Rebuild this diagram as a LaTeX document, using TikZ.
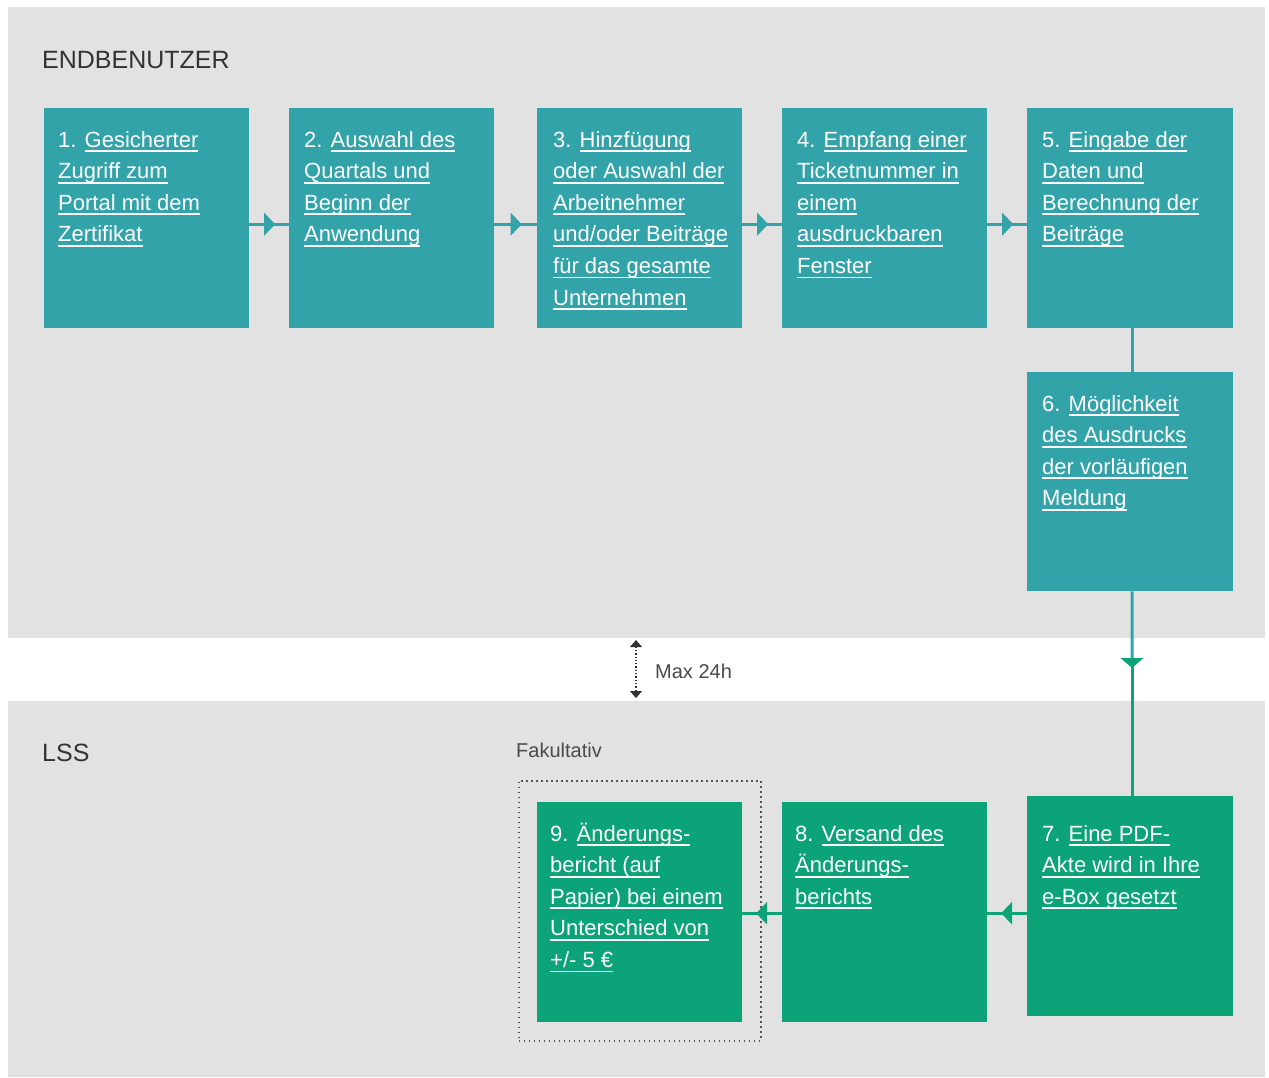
\documentclass[tikz,border=0pt]{standalone}
\usepackage{fontspec}
\setmainfont{Liberation Sans}
\usetikzlibrary{arrows.meta,decorations.markings,calc}
\definecolor{panel}{HTML}{E2E2E2}
\definecolor{tealbox}{HTML}{33A3AA}
\definecolor{greenbox}{HTML}{0BA377}
\definecolor{hdr}{HTML}{333333}
\definecolor{subtxt}{HTML}{4A4A4A}
\definecolor{dotgrey}{HTML}{555555}
\newcommand\uln[1]{\leavevmode\setbox0=\hbox{#1}\rlap{\rule[-5pt]{\wd0}{1.8pt}}\box0}
\newcommand\boxtext[1]{\parbox[t]{300pt}{\fontsize{22}{31.6}\selectfont\raggedright #1}}
\tikzset{
  stepbox/.style={draw=none, minimum width=205, minimum height=220, anchor=north west, inner sep=0},
  tbox/.style={stepbox, fill=tealbox},
  gbox/.style={stepbox, fill=greenbox},
  btext/.style={anchor=base west, inner sep=0, text=white},
  conn/.style={line width=3pt, postaction={decorate},
    decoration={markings, mark=at position 0.5 with {\fill (-5,-11.5) -- (6,0) -- (-5,11.5) -- cycle;}}},
  plain/.style={line width=3pt},
  hdrtext/.style={anchor=base west, inner sep=0, text=hdr, font=\fontsize{25}{30}\selectfont},
}
\begin{document}
\begin{tikzpicture}[x=1pt,y=-1pt]
\useasboundingbox (0,0) rectangle (1269,1077);
% panels
\fill[panel] (8,7) rectangle (1265,638);
\fill[panel] (8,701) rectangle (1265,1077);
% headers
\node[hdrtext] (hend) at (42,68) {ENDBENUTZER};
\node[hdrtext] (hlss) at (42,761) {LSS};
\node[anchor=base west, inner sep=0, text=subtxt, font=\fontsize{20}{24}\selectfont] (fak) at (516,757) {Fakultativ};
% optional frame
\node[draw=dotgrey, line width=1.6pt, dash pattern=on 1.6pt off 3.4pt, minimum width=242, minimum height=260, anchor=north west, inner sep=0] (opt) at (518,780) {};
% boxes
\node[tbox] (b1) at (44,108) {};
\node[tbox] (b2) at (289,108) {};
\node[tbox] (b3) at (537,108) {};
\node[tbox] (b4) at (782,108) {};
\node[tbox, minimum width=206] (b5) at (1027,108) {};
\node[tbox, minimum width=206, minimum height=219] (b6) at (1027,372) {};
\node[gbox, minimum width=206] (b7) at (1027,796) {};
\node[gbox] (b8) at (782,802) {};
\node[gbox] (b9) at (537,802) {};
% texts
\node[btext] (t1) at (58,147) {\boxtext{1. \uln{Gesicherter}\\\uln{Zugriff zum}\\\uln{Portal mit dem}\\\uln{Zertifikat}}};
\node[btext] (t2) at (304,147) {\boxtext{2. \uln{Auswahl des}\\\uln{Quartals und}\\\uln{Beginn der}\\\uln{Anwendung}}};
\node[btext] (t3) at (553,147) {\boxtext{3. \uln{Hinzfügung}\\\uln{oder Auswahl der}\\\uln{Arbeitnehmer}\\\uln{und/oder Beiträge}\\\uln{für das gesamte}\\\uln{Unternehmen}}};
\node[btext] (t4) at (797,147) {\boxtext{4. \uln{Empfang einer}\\\uln{Ticketnummer in}\\\uln{einem}\\\uln{ausdruckbaren}\\\uln{Fenster}}};
\node[btext] (t5) at (1042,147) {\boxtext{5. \uln{Eingabe der}\\\uln{Daten und}\\\uln{Berechnung der}\\\uln{Beiträge}}};
\node[btext] (t6) at (1042,411) {\boxtext{6. \uln{Möglichkeit}\\\uln{des Ausdrucks}\\\uln{der vorläufigen}\\\uln{Meldung}}};
\node[btext] (t7) at (1042,841) {\boxtext{7. \uln{Eine PDF-}\\\uln{Akte wird in Ihre}\\\uln{e-Box gesetzt}}};
\node[btext] (t8) at (795,841) {\boxtext{8. \uln{Versand des}\\\uln{Änderungs-}\\\uln{berichts}}};
\node[btext] (t9) at (550,841) {\boxtext{9. \uln{Änderungs-}\\\uln{bericht (auf}\\\uln{Papier) bei einem}\\\uln{Unterschied von}\\\uln{+/- 5 €}}};
% connectors top row
\draw[tealbox, conn] ([yshift=-6pt]b1.east) -- ([yshift=-6pt]b2.west);
\draw[tealbox, conn] ([yshift=-6pt]b2.east) -- ([yshift=-6pt]b3.west);
\draw[tealbox, conn] ([yshift=-6pt]b3.east) -- ([yshift=-6pt]b4.west);
\draw[tealbox, conn] ([yshift=-6pt]b4.east) -- ([yshift=-6pt]b5.west);
\draw[tealbox, plain] ([xshift=2pt]b5.south) -- ([xshift=2pt]b6.north);
% 6 -> 7
\coordinate (m) at (1132,663);
\draw[tealbox, plain] ([xshift=2pt]b6.south) -- (m);
\draw[greenbox, plain] (m) -- (m |- b7.north);
\fill[greenbox] ($(m)+(-11.5,-5)$) -- ($(m)+(11.5,-5)$) -- ($(m)+(0,5)$) -- cycle;
% bottom row
\draw[greenbox, conn] ([yshift=-1pt]b7.west |- b8.east) -- ([yshift=-1pt]b8.east);
\draw[greenbox, conn] ([yshift=-1pt]b8.west) -- ([yshift=-1pt]b9.east);
% max 24h
\coordinate (mt) at (636,640);
\coordinate (mb) at (636,698);
\draw[hdr, line width=1.3pt, dash pattern=on 1.3pt off 2pt, {Triangle[width=12pt,length=7pt]}-{Triangle[width=12pt,length=7pt]}] (mt) -- (mb);
\node[anchor=base west, inner sep=0, text=subtxt, font=\fontsize{20}{24}\selectfont] (max) at (655,678) {Max 24h};
\end{tikzpicture}
\end{document}
